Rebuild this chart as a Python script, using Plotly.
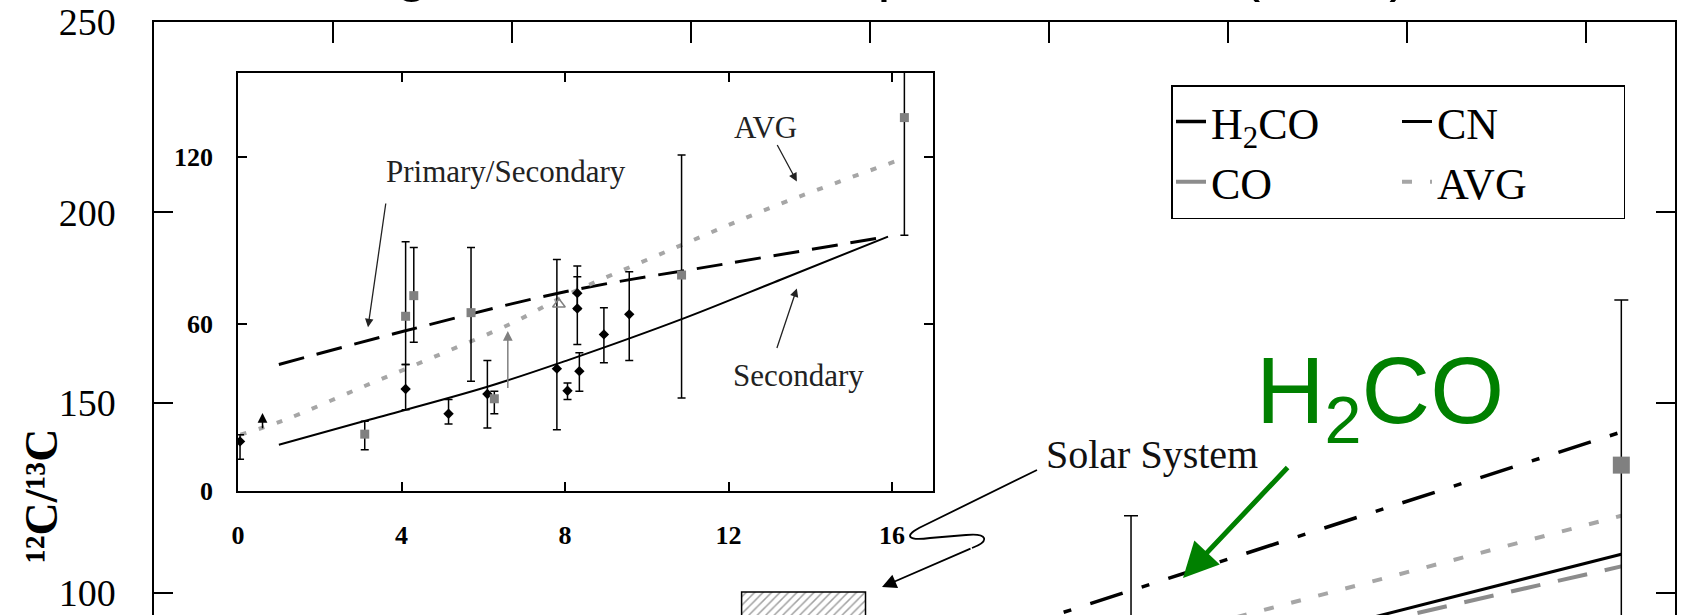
import plotly.graph_objects as go

W, H = 1681, 615

# ---------------- data ----------------
# main panel: galactocentric distance (kpc) vs 12C/13C, linear fits
main_x = [0.0, 16.4]
h2co_y = [17.7, 142.3]
cn_y = [12.3, 110.2]
co_y = [19.0, 107.0]
avg_y = [18.7, 120.3]

# main panel data points (only the error bars / one square are visible)
main_pt_x = [10.92, 16.4]
main_pt_y = [86.0, 133.6]
main_pt_up = [34.3, 43.4]
main_pt_dn = [20.0, 60.0]

# Solar System box
solar_x = [7.26]
solar_base = [60.0]
solar_top = [100.3]

# inset panel: model curves
ps_x = [1.0, 4.07, 8.0, 12.0, 15.9]
ps_y = [45.4, 57.4, 71.5, 81.7, 91.3]
sec_x = [1.0, 3.07, 6.08, 8.04, 10.95, 13.3, 15.9]
sec_y = [16.6, 25.0, 37.3, 46.8, 62.2, 76.0, 91.3]
iavg_x = [0.06, 1.09, 2.96, 4.81, 6.70, 7.95, 10.57, 13.19, 16.06]
iavg_y = [20.2, 25.2, 36.8, 48.2, 60.2, 69.7, 86.5, 102.6, 118.2]

# inset: black diamonds
dia_x = [0.05, 4.1, 5.15, 6.1, 7.8, 8.06, 8.3, 8.3, 8.35, 8.95, 9.57]
dia_y = [17.8, 36.6, 27.7, 34.8, 43.9, 36.0, 65.5, 71.0, 43.0, 56.2, 63.4]
dia_up = [2.4, 8.8, 5.1, 12.0, 39.2, 2.8, 15.2, 5.9, 6.6, 9.6, 15.3]
dia_dn = [6.4, 7.4, 3.7, 12.2, 21.9, 3.2, 12.9, 5.9, 7.2, 10.2, 16.6]

# inset: gray squares
sq_x = [3.1, 4.1, 4.3, 5.7, 6.27, 10.85, 16.3]
sq_y = [20.4, 62.7, 70.1, 64.0, 33.1, 77.5, 134.0]
sq_up = [4.6, 26.7, 17.3, 23.4, 2.7, 43.1, 20.0]
sq_dn = [5.6, 17.3, 16.7, 24.6, 5.4, 44.1, 42.2]

# inset: open triangle
tri_x = [7.85]
tri_y = [67.0]

# inset: lower limits (arrows)
lim_x = [0.6, 6.6]
lim_lo = [22.0, 36.4]
lim_hi = [28.0, 57.4]
lim_col = ["black", "#808080"]

main_ticks_y = [100, 150, 200, 250]
inset_ticks_x = [0, 4, 8, 12, 16]
inset_ticks_y = [0, 60, 120]

# ---------------- layout geometry ----------------
MX0, MX1, MY0, MY1 = 154, 1675, 22, 615
YB = 94.23
IX0, IX1, IY0, IY1 = 238, 933, 73, 491


def mx(px):
    return (px - MX0) / (MX1 - MX0) * 17.0


def my(py):
    return 250.0 - (py - MY0) / (MY1 - MY0) * (250.0 - YB)


SERIF = "Liberation Serif"
SANS = "Liberation Sans"

fig = go.Figure()

# main fits (legend groups give the 2x2 legend layout)
fig.add_trace(go.Scatter(x=main_x, y=h2co_y, mode="lines", name="H<sub>2</sub>CO", legendgroup="c1",
                         line=dict(color="black", width=3.5, dash="34px,20px,8px,20px"),
                         xaxis="x", yaxis="y"))
fig.add_trace(go.Scatter(x=main_x, y=cn_y, mode="lines", name="CN", legendgroup="c2",
                         line=dict(color="black", width=3), xaxis="x", yaxis="y"))
fig.add_trace(go.Scatter(x=main_x, y=co_y, mode="lines", name="CO", legendgroup="c1",
                         line=dict(color="#8c8c8c", width=4, dash="30px,18px"),
                         xaxis="x", yaxis="y"))
fig.add_trace(go.Scatter(x=main_x, y=avg_y, mode="lines", name="AVG", legendgroup="c2",
                         line=dict(color="#a6a6a6", width=4, dash="10px,18px"),
                         xaxis="x", yaxis="y"))

# solar system hatched box
fig.add_trace(go.Bar(x=solar_x, y=[t - b for t, b in zip(solar_top, solar_base)], base=solar_base,
                     width=1.385, showlegend=False, xaxis="x", yaxis="y",
                     marker=dict(color="white", line=dict(color="black", width=1.5),
                                 pattern=dict(shape="/", fgcolor="#444444", size=6, solidity=0.25))))

# main data points
fig.add_trace(go.Scatter(x=main_pt_x, y=main_pt_y, mode="markers", showlegend=False,
                         marker=dict(symbol="square", size=17, color="#808080"),
                         error_y=dict(type="data", symmetric=False, array=main_pt_up,
                                      arrayminus=main_pt_dn, color="black", thickness=1.5, width=7),
                         xaxis="x", yaxis="y"))

# inset curves
fig.add_trace(go.Scatter(x=ps_x, y=ps_y, mode="lines", showlegend=False,
                         line=dict(color="black", width=3, dash="26px,13px", shape="spline"),
                         xaxis="x2", yaxis="y2"))
fig.add_trace(go.Scatter(x=sec_x, y=sec_y, mode="lines", showlegend=False,
                         line=dict(color="black", width=2, shape="spline"), xaxis="x2", yaxis="y2"))
fig.add_trace(go.Scatter(x=iavg_x, y=iavg_y, mode="lines", showlegend=False,
                         line=dict(color="#a6a6a6", width=4, dash="6px,13px", shape="spline"),
                         xaxis="x2", yaxis="y2"))

# inset points
fig.add_trace(go.Scatter(x=dia_x, y=dia_y, mode="markers", showlegend=False,
                         marker=dict(symbol="diamond", size=8, color="black"),
                         error_y=dict(type="data", symmetric=False, array=dia_up, arrayminus=dia_dn,
                                      color="black", thickness=1.5, width=4),
                         xaxis="x2", yaxis="y2"))
fig.add_trace(go.Scatter(x=sq_x, y=sq_y, mode="markers", showlegend=False,
                         marker=dict(symbol="square", size=9, color="#808080"),
                         error_y=dict(type="data", symmetric=False, array=sq_up, arrayminus=sq_dn,
                                      color="black", thickness=1.5, width=4),
                         xaxis="x2", yaxis="y2"))
fig.add_trace(go.Scatter(x=tri_x, y=tri_y, mode="markers", showlegend=False,
                         marker=dict(symbol="triangle-up-open", size=11, color="#808080",
                                     line=dict(width=1.5)),
                         xaxis="x2", yaxis="y2"))

annotations = []

# lower-limit arrows in inset
for xv, lo, hi, col in zip(lim_x, lim_lo, lim_hi, lim_col):
    annotations.append(dict(x=xv, y=hi, ax=xv, ay=lo, xref="x2", yref="y2", axref="x2", ayref="y2",
                            text="", showarrow=True, arrowhead=2, arrowsize=1.3, arrowwidth=1.5,
                            arrowcolor=col))

# inset labels and arrows
annotations += [
    dict(x=6.55, y=114.8, xref="x2", yref="y2", text="Primary/Secondary", showarrow=False,
         font=dict(family=SERIF, size=31, color="#222")),
    dict(x=3.18, y=58.8, ax=3.62, ay=103.7, xref="x2", yref="y2", axref="x2", ayref="y2",
         text="", showarrow=True, arrowhead=2, arrowsize=1.3, arrowwidth=1.3, arrowcolor="#222"),
    dict(x=12.9, y=130.5, xref="x2", yref="y2", text="AVG", showarrow=False,
         font=dict(family=SERIF, size=31, color="#222")),
    dict(x=13.67, y=111.1, ax=13.17, ay=124.7, xref="x2", yref="y2", axref="x2", ayref="y2",
         text="", showarrow=True, arrowhead=2, arrowsize=1.3, arrowwidth=1.3, arrowcolor="#222"),
    dict(x=13.72, y=41.3, xref="x2", yref="y2", text="Secondary", showarrow=False,
         font=dict(family=SERIF, size=31, color="#222")),
    dict(x=13.67, y=72.7, ax=13.17, ay=50.8, xref="x2", yref="y2", axref="x2", ayref="y2",
         text="", showarrow=True, arrowhead=2, arrowsize=1.3, arrowwidth=1.3, arrowcolor="#222"),
]

# Solar System label + squiggly arrow
annotations.append(dict(x=mx(1152), y=my(454), xref="x", yref="y", text="Solar System",
                        showarrow=False, font=dict(family=SERIF, size=40, color="#111")))
annotations.append(dict(x=mx(882), y=my(587), ax=mx(972), ay=my(548), xref="x", yref="y",
                        axref="x", ayref="y", text="", showarrow=True, arrowhead=2, arrowsize=1.6,
                        arrowwidth=1.8, arrowcolor="black"))
squiggle = (f"M {mx(1037)},{my(470)} L {mx(923)},{my(526)} "
            f"C {mx(902)},{my(536)} {mx(908)},{my(541)} {mx(930)},{my(538)} "
            f"L {mx(966)},{my(535)} "
            f"C {mx(988)},{my(533)} {mx(990)},{my(541)} {mx(972)},{my(548)}")

# green highlight
annotations.append(dict(x=mx(1380), y=my(397), xref="x", yref="y", text="H<sub>2</sub>CO",
                        showarrow=False, font=dict(family=SANS, size=95, color="#008000")))
annotations.append(dict(x=mx(1183), y=my(578), ax=mx(1289), ay=my(466), xref="x", yref="y",
                        axref="x", ayref="y", text="", showarrow=True, arrowhead=2, arrowsize=1.4,
                        arrowwidth=5, arrowcolor="#008000"))

# y-axis title
annotations.append(dict(x=41 / W, y=1 - 496 / H, xref="paper", yref="paper",
                        xanchor="center", yanchor="middle",
                        text="\u00b9\u00b2C/\u00b9\u00b3C", textangle=-90, showarrow=False,
                        font=dict(family=SERIF, size=46, color="black", weight="bold")))

# title (mostly above the visible page)
annotations.append(dict(x=1411 / W, y=1 - 4 / H, xref="paper", yref="paper", xanchor="right",
                        yanchor="bottom", text="Galactic gradient: Milam+ ApJ, 634, 1126 (2005)",
                        showarrow=False, font=dict(family=SANS, size=58, color="black")))

axis_common = dict(showline=True, linecolor="black", linewidth=1.5, ticks="inside",
                   tickcolor="black", tickwidth=1.5, showgrid=False, zeroline=False,
                   automargin=False)

fig.update_layout(
    width=W, height=H,
    margin=dict(l=0, r=0, t=0, b=0, autoexpand=False),
    paper_bgcolor="white", plot_bgcolor="white",
    showlegend=True,
    legend=dict(x=1171 / W, y=1 - 85 / H, xanchor="left", yanchor="top",
                orientation="h", traceorder="grouped", tracegroupgap=0,
                entrywidth=181, entrywidthmode="pixels",
                bordercolor="black", borderwidth=1.5, bgcolor="white",
                font=dict(family=SERIF, size=44, color="black")),
    xaxis=dict(domain=[MX0 / W, MX1 / W], range=[0, 17], side="top", anchor="y",
               tick0=0, dtick=2, ticklen=21, showticklabels=False, **axis_common),
    yaxis=dict(domain=[0, 1 - MY0 / H], range=[YB, 250], anchor="x", tickvals=main_ticks_y,
               ticklen=19, mirror="ticks", ticklabelstandoff=29,
               tickfont=dict(family=SERIF, size=38, color="black"), **axis_common),
    xaxis2=dict(domain=[IX0 / W, IX1 / W], range=[0, 17], anchor="y2", tickvals=inset_ticks_x,
                ticklen=9, mirror="ticks", ticklabelstandoff=20,
                tickfont=dict(family=SERIF, size=26, color="black", weight="bold"), **axis_common),
    yaxis2=dict(domain=[1 - IY1 / H, 1 - IY0 / H], range=[0, 150], anchor="x2",
                tickvals=inset_ticks_y, ticklen=9, mirror="ticks", ticklabelstandoff=18,
                tickfont=dict(family=SERIF, size=26, color="black", weight="bold"), **axis_common),
    annotations=annotations,
    shapes=[dict(type="path", path=squiggle, xref="x", yref="y",
                 line=dict(color="black", width=1.8))],
)

fig.write_html("out.html")
